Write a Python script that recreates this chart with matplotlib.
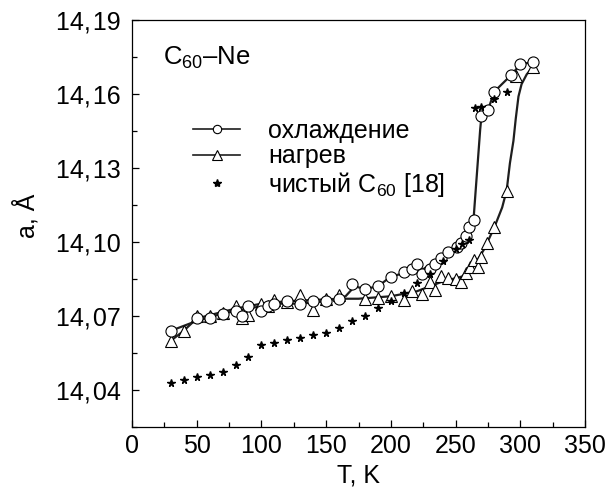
import matplotlib
matplotlib.use("Agg")
import matplotlib.pyplot as plt
from matplotlib.lines import Line2D
from matplotlib.ticker import FixedLocator, FuncFormatter, MultipleLocator

plt.rcParams["font.family"] = ["Liberation Sans", "DejaVu Sans"]
plt.rcParams["mathtext.fontset"] = "custom"
plt.rcParams["mathtext.rm"] = "Liberation Sans"
plt.rcParams["mathtext.it"] = "Liberation Sans"

# cooling (circles)
cool_T = [30, 50, 60, 70, 80, 85, 90, 100, 105, 110, 120, 130, 140, 150, 160,
          170, 180, 190, 200, 210, 216, 220, 224, 230, 234, 239, 244, 251, 254,
          258, 260, 264, 270, 275, 280, 293, 300, 310]
cool_a = [14.064, 14.069, 14.069, 14.071, 14.072, 14.070, 14.074, 14.072, 14.074,
          14.075, 14.076, 14.075, 14.076, 14.076, 14.077, 14.083, 14.081, 14.082,
          14.086, 14.088, 14.089, 14.091, 14.087, 14.089, 14.091, 14.0935, 14.096,
          14.098, 14.0995, 14.1025, 14.106, 14.109, 14.151, 14.1535, 14.161,
          14.1677, 14.172, 14.173]
# cooling curve as drawn in the figure
cool_fit_T = [30, 50, 70, 90, 110, 130, 150, 165, 172, 180, 190, 200, 215, 225,
              240, 250, 258, 264, 269, 270, 275, 280, 293, 300, 310]
cool_fit_a = [14.064, 14.068, 14.071, 14.073, 14.075, 14.075, 14.076, 14.078,
              14.082, 14.081, 14.082, 14.086, 14.088, 14.089, 14.094, 14.097,
              14.1015, 14.110, 14.1455, 14.151, 14.1535, 14.161, 14.1677,
              14.172, 14.173]

# heating (triangles)
heat_T = [30, 40, 50, 60, 70, 80, 85, 90, 100, 105, 110, 120, 130, 140, 150, 160,
          180, 190, 200, 210, 216, 224, 230, 234, 239, 244, 250, 254, 258, 261,
          264, 267, 270, 274, 280, 289.5, 297, 310]
heat_a = [14.060, 14.064, 14.070, 14.070, 14.0714, 14.074, 14.069, 14.0705,
          14.075, 14.074, 14.0765, 14.0758, 14.0785, 14.0725, 14.077, 14.0785,
          14.0768, 14.0773, 14.078, 14.0766, 14.080, 14.079, 14.0836, 14.0806,
          14.0864, 14.0853, 14.0849, 14.0836, 14.0873, 14.090, 14.0927, 14.090,
          14.094, 14.0995, 14.106, 14.1205, 14.1675, 14.171]
# heating curve as drawn in the figure
heat_fit_T = [30, 40, 50, 80, 100, 120, 160, 175, 200, 220, 240, 255, 265, 272,
              280, 286, 289.5, 292, 294.7, 296.5, 298.6, 301, 305, 310]
heat_fit_a = [14.060, 14.064, 14.069, 14.073, 14.075, 14.076, 14.077, 14.077,
              14.078, 14.080, 14.084, 14.086, 14.091, 14.097, 14.106, 14.114,
              14.121, 14.132, 14.141, 14.150, 14.159, 14.164, 14.168, 14.171]

# pure C60 [18] (stars)
pure_T = [30, 40, 50, 60, 70, 80, 90, 100, 110, 120, 130, 140, 150, 160, 170,
          180, 190, 200, 210, 220, 230, 240, 250, 255, 260, 265, 270, 280, 290]
pure_a = [14.043, 14.0441, 14.0452, 14.0462, 14.0471, 14.0501, 14.0533, 14.0582,
          14.0591, 14.0603, 14.0611, 14.0622, 14.0631, 14.0652, 14.0681, 14.0700,
          14.0732, 14.0759, 14.0793, 14.0833, 14.0871, 14.0921, 14.0971, 14.0991,
          14.1008, 14.1542, 14.1546, 14.1578, 14.1608]

x_ticks = [0, 50, 100, 150, 200, 250, 300, 350]
y_ticks = [14.04, 14.07, 14.10, 14.13, 14.16, 14.19]

fs = 18
line_col = "#1e1e1e"

fig = plt.figure(figsize=(6.13, 4.88), dpi=100)
ax = fig.add_axes([132 / 613, 1 - 427 / 488, 453 / 613, 407 / 488])

ax.plot(heat_fit_T, heat_fit_a, color=line_col, lw=1.6, zorder=2)
ax.plot(cool_fit_T, cool_fit_a, color=line_col, lw=1.6, zorder=2)
ax.plot(heat_T, heat_a, ls="none", marker="^", ms=8.5, mfc="white",
        mec="black", mew=0.8, zorder=3)
ax.plot(cool_T, cool_a, ls="none", marker="o", ms=8, mfc="white",
        mec="black", mew=0.8, zorder=4)
ax.plot(pure_T, pure_a, ls="none", marker="*", ms=5.5, color="black", zorder=5)

ax.set_xlim(0, 350)
ax.set_ylim(14.025, 14.19)
ax.xaxis.set_major_locator(FixedLocator(x_ticks))
ax.xaxis.set_minor_locator(MultipleLocator(25))
ax.yaxis.set_major_locator(FixedLocator(y_ticks))
ax.yaxis.set_minor_locator(MultipleLocator(0.015))
ax.yaxis.set_major_formatter(
    FuncFormatter(lambda v, p: f"{v:.2f}".replace(".", ",\u200a")))
ax.tick_params(which="both", direction="in", top=False, right=False,
               labelsize=fs, width=0.9)
ax.tick_params(which="major", length=5)
ax.tick_params(which="minor", length=3.5)
ax.tick_params(axis="x", pad=5)
ax.tick_params(axis="y", pad=8)
for s in ax.spines.values():
    s.set_linewidth(0.9)

ax.set_xlabel("T, K", fontsize=fs)
ax.set_ylabel("a, Å", fontsize=fs)
ax.xaxis.set_label_coords(0.5, -0.089)
ax.yaxis.set_label_coords(-0.205, 0.52)

ax.text(0.068, 0.889, r"C$_{\mathrm{60}}$–Ne", transform=ax.transAxes,
        fontsize=fs + 0.5, va="baseline", ha="left")

handles = [
    Line2D([], [], color=line_col, lw=1.2, marker="o", ms=6, mfc="white",
           mec="black", mew=0.8),
    Line2D([], [], color=line_col, lw=1.2, marker="^", ms=7, mfc="white",
           mec="black", mew=0.8),
    Line2D([], [], ls="none", marker="*", ms=6, color="black"),
]
labels = ["охлаждение", "нагрев", r"чистый C$_{\mathrm{60}}$ [18]"]
ax.legend(handles, labels, loc="upper left", bbox_to_anchor=(0.135, 0.757),
          frameon=False, fontsize=fs, borderpad=0, borderaxespad=0,
          labelspacing=0.06, handlelength=1.88, handletextpad=1.12)

fig.savefig("out.png", dpi=100)
